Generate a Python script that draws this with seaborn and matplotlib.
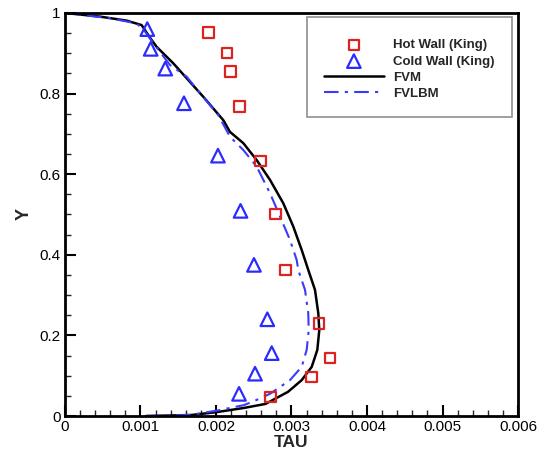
import numpy as np
import pandas as pd
import matplotlib
matplotlib.use("Agg")
import matplotlib.pyplot as plt
import seaborn as sns
from matplotlib.ticker import MultipleLocator, FuncFormatter

# Experimental data (King) - shear stress along hot and cold walls
hot_tau = [0.001898, 0.002146, 0.002189, 0.002314, 0.002592, 0.002791,
           0.002918, 0.003364, 0.003510, 0.003267, 0.002725]
hot_y = [0.952, 0.901, 0.854, 0.768, 0.633, 0.501,
         0.362, 0.230, 0.144, 0.097, 0.047]

cold_tau = [0.001090, 0.001135, 0.001328, 0.001576, 0.002026, 0.002325,
            0.002503, 0.002680, 0.002738, 0.002517, 0.002305]
cold_y = [0.960, 0.911, 0.862, 0.776, 0.646, 0.509,
          0.375, 0.240, 0.156, 0.105, 0.055]

# FVM profile
fvm_tau = [0.001072, 0.001674, 0.001999, 0.002371, 0.002656, 0.002954,
           0.003135, 0.003268, 0.003342, 0.003368, 0.003355, 0.003311,
           0.003223, 0.003135, 0.003024, 0.002891, 0.002715, 0.002539,
           0.002362, 0.002185, 0.002097, 0.001832, 0.001612, 0.001435,
           0.001214, 0.001117, 0.001015, 0.000817, 0.000464, 0.0]
fvm_y = [0.0, 0.0025, 0.0094, 0.020, 0.030, 0.060,
         0.089, 0.122, 0.164, 0.213, 0.255, 0.313,
         0.362, 0.412, 0.470, 0.528, 0.586, 0.635,
         0.677, 0.705, 0.734, 0.792, 0.838, 0.875,
         0.916, 0.941, 0.970, 0.981, 0.991, 1.0]

# FVLBM profile
lbm_tau = [0.00107, 0.00165, 0.00200, 0.00237, 0.00254, 0.002715,
           0.00298, 0.003135, 0.003201, 0.003228, 0.003222, 0.003179,
           0.003090, 0.003069, 0.00298, 0.002848, 0.002715, 0.002539,
           0.002362, 0.002185, 0.00203, 0.001788, 0.001612, 0.00139,
           0.00117, 0.00106, 0.00095, 0.000596, 0.0]
lbm_y = [0.0, 0.0025, 0.013, 0.027, 0.040, 0.055,
         0.089, 0.122, 0.164, 0.213, 0.255, 0.313,
         0.362, 0.387, 0.437, 0.495, 0.553, 0.619,
         0.660, 0.693, 0.747, 0.801, 0.842, 0.871,
         0.925, 0.954, 0.974, 0.987, 1.0]

sns.set_style("ticks")
plt.rcParams['font.family'] = ['Liberation Sans', 'DejaVu Sans']

fig = plt.figure(figsize=(5.47, 4.51), dpi=100)
ax = fig.add_axes([0.1188, 0.0776, 0.8282, 0.8936])

sns.scatterplot(x=hot_tau, y=hot_y, ax=ax, marker='s', s=60,
                facecolor='none', edgecolor='#dd2222', linewidth=1.6,
                label='Hot Wall (King)', zorder=3)
sns.scatterplot(x=cold_tau, y=cold_y, ax=ax, marker='^', s=95,
                facecolor='none', edgecolor='#2b2bff', linewidth=1.6,
                label='Cold Wall (King)', zorder=3)
sns.lineplot(x=fvm_tau, y=fvm_y, ax=ax, sort=False, estimator=None,
             color='black', linewidth=1.8, label='FVM')
sns.lineplot(x=lbm_tau, y=lbm_y, ax=ax, sort=False, estimator=None,
             color='#3a3aff', linewidth=1.5, linestyle=(0, (7, 3, 1.5, 3)),
             label='FVLBM')

ax.set_xlim(0, 0.006)
ax.set_ylim(0, 1)
ax.xaxis.set_major_locator(MultipleLocator(0.001))
ax.xaxis.set_minor_locator(MultipleLocator(0.0002))
ax.yaxis.set_major_locator(MultipleLocator(0.2))
ax.yaxis.set_minor_locator(MultipleLocator(0.05))
fmt = FuncFormatter(lambda v, pos: f"{round(v, 6):g}")
ax.xaxis.set_major_formatter(fmt)
ax.yaxis.set_major_formatter(fmt)
ax.tick_params(which='major', direction='in', length=8, width=1.5,
               labelsize=11, pad=3, colors='black')
ax.tick_params(which='minor', direction='in', length=4, width=1)
for sp in ax.spines.values():
    sp.set_linewidth(2)
    sp.set_color('black')

ax.set_xlabel('TAU', fontsize=12.5, fontweight='bold')
ax.xaxis.set_label_coords(0.5, -0.048)
ax.set_ylabel('Y', fontsize=13, fontweight='bold', labelpad=5)

leg = ax.legend(loc='upper right', bbox_to_anchor=(0.987, 0.99),
                prop={'size': 9.5, 'weight': 'bold'}, frameon=True,
                fancybox=False, borderpad=1.3, labelspacing=0.3,
                handlelength=4.5, handletextpad=0.75, scatterpoints=1,
                borderaxespad=0, title=' ', title_fontsize=1)
leg.get_frame().set_edgecolor('0.45')
leg.get_frame().set_linewidth(1.2)

fig.savefig('out.png', dpi=100)
